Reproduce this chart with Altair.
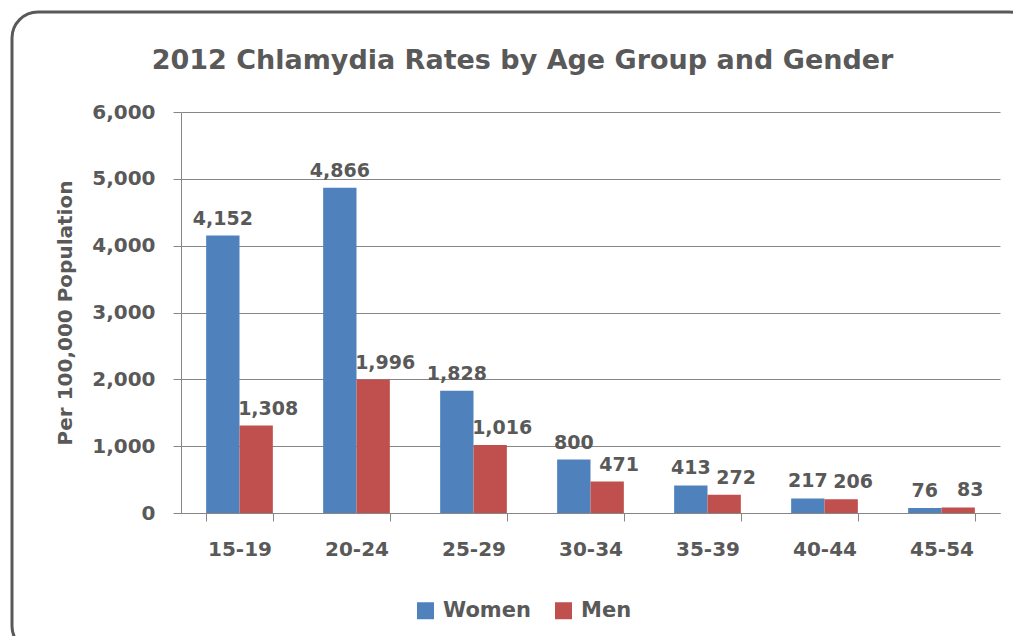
import altair as alt
import pandas as pd

ages = ["15-19", "20-24", "25-29", "30-34", "35-39", "40-44", "45-54"]
women = [4152, 4866, 1828, 800, 413, 217, 76]
men = [1308, 1996, 1016, 471, 272, 206, 83]
genders = ["Women", "Men"]
colors = ["#4F81BD", "#C0504D"]
y_ticks = [0, 1000, 2000, 3000, 4000, 5000, 6000]

rows = []
for a, w, m in zip(ages, women, men):
    rows.append({"age": a, "gender": "Women", "rate": w})
    rows.append({"age": a, "gender": "Men", "rate": m})
df = pd.DataFrame(rows)

FONT = "DejaVu Sans"
TXT = "#595959"
GRID = "#868686"

x_enc = alt.X("age:N", sort=ages, title=None,
              scale=alt.Scale(paddingInner=0.43, paddingOuter=0.215),
              axis=alt.Axis(labelAngle=0, tickBand="extent", labelFontSize=20,
                            labelFont=FONT, labelFontWeight="bold", labelColor=TXT,
                            domainColor=GRID, tickColor=GRID, tickSize=8,
                            labelPadding=18, grid=False))
y_enc = alt.Y("rate:Q", title="Per 100,000 Population",
              scale=alt.Scale(domain=[0, 6000], nice=False),
              axis=alt.Axis(values=y_ticks, format=",.0f", labelFontSize=20,
                            labelFont=FONT, labelFontWeight="bold", labelColor=TXT,
                            domainColor=GRID, tickColor=GRID, tickSize=8,
                            labelPadding=18, gridColor=GRID, gridWidth=1,
                            titleFont=FONT, titleFontSize=20, titleFontWeight="bold",
                            titleColor=TXT, titlePadding=16))
xoff = alt.XOffset("gender:N", sort=genders)
x_plain = alt.X("age:N", sort=ages)

bars = alt.Chart(df).mark_bar().encode(
    x=x_enc, y=y_enc, xOffset=xoff,
    color=alt.Color("gender:N", sort=genders,
                    scale=alt.Scale(domain=genders, range=colors),
                    legend=alt.Legend(title=None, orient="none", legendX=234, legendY=488,
                                      direction="horizontal", symbolType="square",
                                      symbolSize=289, symbolStrokeWidth=0,
                                      labelFont=FONT, labelFontSize=21,
                                      labelFontWeight="bold", labelColor=TXT,
                                      columnPadding=22, labelOffset=7)),
)

text_w = alt.Chart(df).transform_filter(alt.datum.gender == "Women").mark_text(
    baseline="alphabetic", dy=-11, font=FONT, fontSize=19, fontWeight="bold", color=TXT
).encode(x=x_plain, y="rate:Q", xOffset=xoff, text=alt.Text("rate:Q", format=","))
text_m = alt.Chart(df).transform_filter(alt.datum.gender == "Men").mark_text(
    baseline="alphabetic", dy=-11, dx=12, font=FONT, fontSize=19, fontWeight="bold", color=TXT
).encode(x=x_plain, y="rate:Q", xOffset=xoff, text=alt.Text("rate:Q", format=","))

frame_df = pd.DataFrame({"k": [0]})
frame = alt.Chart(frame_df).mark_rect(filled=False, fillOpacity=0, stroke="#595959",
                                      strokeWidth=3, cornerRadius=26).encode(
    x=alt.value(-169), x2=alt.value(854), y=alt.value(-100), y2=alt.value(540),
)

chart = alt.layer(frame, bars, text_w, text_m).properties(
    width=819, height=401,
    autosize=alt.AutoSizeParams(type="none"),
    padding={"left": 173, "top": 104, "right": 13, "bottom": 123},
    title=alt.TitleParams("2012 Chlamydia Rates by Age Group and Gender",
                          font=FONT, fontSize=27, fontWeight="bold", color=TXT,
                          anchor="middle", dx=-68, offset=-85, baseline="alphabetic"),
).configure_view(strokeWidth=0)

chart.save("out.html", embed_options={"renderer": "svg", "actions": False})
